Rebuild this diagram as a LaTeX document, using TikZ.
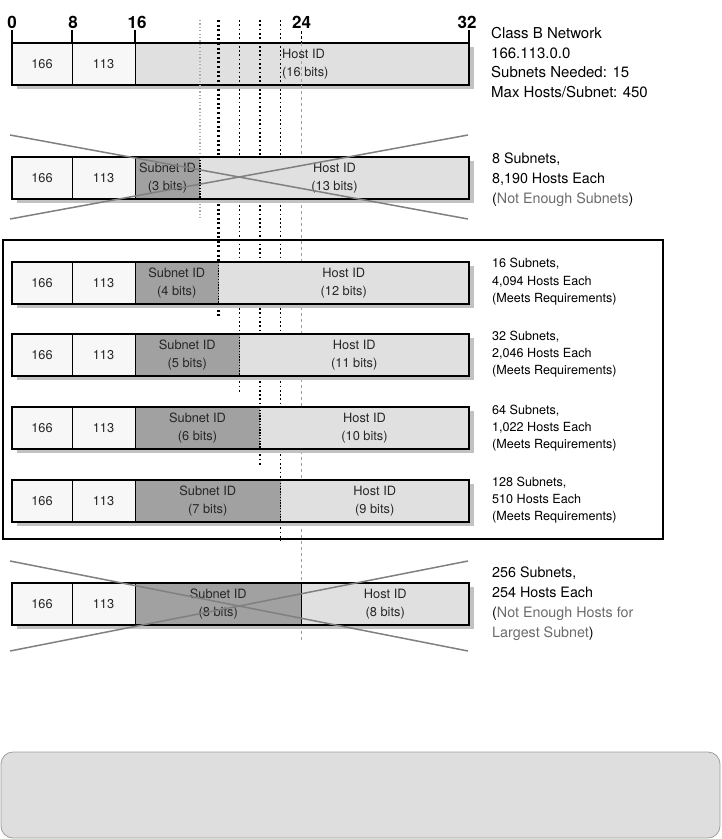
\documentclass[tikz,border=0pt]{standalone}
\usepackage{fontspec}
\setmainfont{TeX Gyre Heros}
\definecolor{lightc}{gray}{0.97}
\definecolor{hostc}{gray}{0.88}
\definecolor{subc}{gray}{0.63}
\definecolor{shadowc}{gray}{0.76}
\definecolor{crossc}{gray}{0.50}
\definecolor{greytext}{gray}{0.42}
\definecolor{boxgray}{gray}{0.87}
\newcommand\gtx[1]{\textcolor{greytext}{#1}}
\tikzset{
  outline/.style={line width=2.2pt,black},
  thinline/.style={line width=0.8pt,black},
  tick/.style={line width=1.8pt,black},
  ticklab/.style={inner sep=0pt,font=\fontsize{17}{17}\selectfont\bfseries},
  celltext/.style={inner sep=0pt,align=center,text=black!85,font=\fontsize{12.8}{18}\selectfont},
  rtop/.style={anchor=base west,inner sep=0pt,font=\fontsize{15}{19}\selectfont},
  rmid/.style={anchor=base west,inner sep=0pt,font=\fontsize{14.3}{18}\selectfont},
  rsmall/.style={anchor=base west,inner sep=0pt,font=\fontsize{12.6}{15}\selectfont},
  gthree/.style={gray!65,line width=1.1pt,dash pattern=on 1.2pt off 2.2pt},
  gfour/.style={black,line width=2.2pt,dash pattern=on 2pt off 2.6pt},
  gdark/.style={black,line width=1.7pt,dash pattern=on 1.7pt off 2.6pt},
  gtf/.style={gray!75,line width=0.9pt,dash pattern=on 3pt off 3pt},
  bnddot/.style={black,line width=1.4pt,dash pattern=on 1.4pt off 1.4pt},
  bndsolid/.style={thinline},
  crossline/.style={crossc,line width=1.5pt},
}
\newcommand\subrow[6]{%
  \fill[shadowc] (17,#2+4) rectangle (474,#2+46);
  \fill[lightc] (12,#2) rectangle (135,#2+42);
  \fill[subc] (135,#2) rectangle (#3,#2+42);
  \fill[hostc] (#3,#2) rectangle (469,#2+42);
  \draw[thinline] (72,#2) -- (72,#2+42) (135,#2) -- (135,#2+42);
  \draw[#6] (#3,#2) -- (#3,#2+42);
  \draw[outline] (12,#2) rectangle (469,#2+42);
  \node[celltext] (#1a) at (42,#2+21) {166};
  \node[celltext] (#1b) at (103.5,#2+21) {113};
  \node[celltext] (#1s) at ({(135+#3)/2},#2+21) {Subnet ID\\(#4 bits)};
  \node[celltext] (#1h) at ({(#3+469)/2},#2+21) {Host ID\\(#5 bits)};
}
\begin{document}
\begin{tikzpicture}[x=1pt,y=-1pt]
\useasboundingbox (0,0) rectangle (722,839);
% top bar
\fill[shadowc] (17,47) rectangle (474,89);
\fill[lightc] (12,43) rectangle (135,85);
\fill[hostc] (135,43) rectangle (469,85);
\draw[thinline] (72,43) -- (72,85) (135,43) -- (135,85);
\draw[outline] (12,43) rectangle (469,85);
\node[celltext] (r1a) at (42,64) {166};
\node[celltext] (r1b) at (103.5,64) {113};
% bit scale
\node[ticklab] (t0) at (12,22) {0};
\node[ticklab] (t8) at (73,22) {8};
\node[ticklab] (t16) at (137,22) {16};
\node[ticklab] (t24) at (301.5,22) {24};
\node[ticklab] (t32) at (467,22) {32};
\draw[tick] (12,30) -- (12,43);
\draw[tick] (72,30) -- (72,43);
\draw[tick] (135,30) -- (135,43);
\draw[tick] (469,30) -- (469,43);
% guide lines
\draw[gthree] (200,20) -- (200,218);
\draw[gfour] (218.5,20) -- (218.5,318);
\draw[gdark] (239.5,20) -- (239.5,392);
\draw[gdark] (260,20) -- (260,465);
\draw[gdark] (280.5,20) -- (280.5,541);
\draw[gtf] (301.5,43) -- (301.5,640);
\draw[black,line width=1.4pt,dash pattern=on 3pt off 2pt] (301.5,31) -- (301.5,43);
\node[celltext,align=left,anchor=west] (r1h) at (282,64) {Host ID\\(16 bits)};
% rows
\subrow{r2}{157}{200}{3}{13}{bnddot}
\subrow{r3}{262}{218.5}{4}{12}{bnddot}
\subrow{r4}{334}{239.5}{5}{11}{bnddot}
\subrow{r5}{407}{260}{6}{10}{bnddot}
\subrow{r6}{480}{280.5}{7}{9}{bnddot}
\subrow{r7}{583}{301.5}{8}{8}{bndsolid}
% crosses
\draw[crossline] (10,135) -- (468,219);
\draw[crossline] (10,219) -- (468,135);
\draw[crossline] (10,561) -- (468,651);
\draw[crossline] (10,651) -- (468,561);
% enclosing box
\draw[line width=1.4pt] (3,240) rectangle (663,539);
% right texts
\node[rtop] (n1) at (491,38.5) {Class B Network};
\node[rtop] (n2) at (491,58) {166.113.0.0};
\node[rtop] (n3) at (491,77.5) {Subnets Needed: 15};
\node[rtop] (n4) at (491,97) {Max Hosts/Subnet: 450};
\node[rmid] (a1) at (492,163) {8 Subnets,};
\node[rmid] (a2) at (492,183) {8,190 Hosts Each};
\node[rmid] (a3) at (492,203) {(\gtx{Not Enough Subnets})};
\node[rsmall] (b1) at (492,267.5) {16 Subnets,};
\node[rsmall] (b2) at (492,285) {4,094 Hosts Each};
\node[rsmall] (b3) at (492,302.5) {(Meets Requirements)};
\node[rsmall] (c1) at (492,340.5) {32 Subnets,};
\node[rsmall] (c2) at (492,357.5) {2,046 Hosts Each};
\node[rsmall] (c3) at (492,374.5) {(Meets Requirements)};
\node[rsmall] (d1) at (492,414) {64 Subnets,};
\node[rsmall] (d2) at (492,431) {1,022 Hosts Each};
\node[rsmall] (d3) at (492,448) {(Meets Requirements)};
\node[rsmall] (e1) at (492,486.5) {128 Subnets,};
\node[rsmall] (e2) at (492,503.5) {510 Hosts Each};
\node[rsmall] (e3) at (492,520.5) {(Meets Requirements)};
\node[rmid] (f1) at (492,577) {256 Subnets,};
\node[rmid] (f2) at (492,597) {254 Hosts Each};
\node[rmid] (f3) at (492,617) {(\gtx{Not Enough Hosts for}};
\node[rmid] (f4) at (492,637) {\gtx{Largest Subnet})};
% bottom panel
\draw[draw=gray!75,fill=boxgray,line width=0.8pt,rounded corners=12pt] (1,752) rectangle (720,838);
\end{tikzpicture}
\end{document}
